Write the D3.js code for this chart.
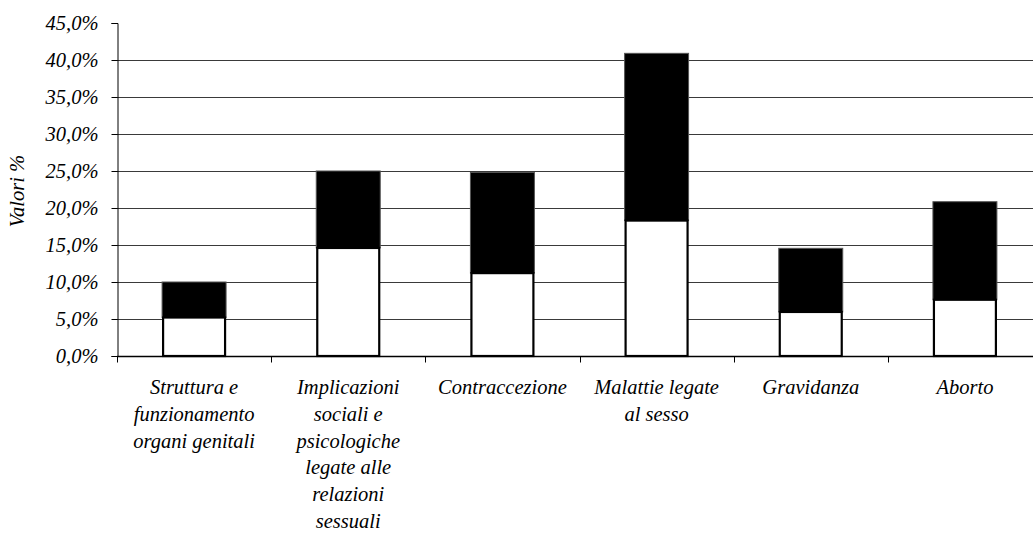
<!DOCTYPE html>
<html>
<head>
<meta charset="utf-8">
<script src="https://cdn.jsdelivr.net/npm/d3@7"></script>
<style>
    body { margin: 0; background: #fff; }
    svg text { font-family: "Liberation Serif", "Times New Roman", Times, serif; font-style: italic; fill: #000; }
</style>
</head>
<body>
<script>
// categories, one label line per entry
const categories = [
    ["Struttura e", "funzionamento", "organi genitali"],
    ["Implicazioni", "sociali e", "psicologiche", "legate alle", "relazioni", "sessuali"],
    ["Contraccezione"],
    ["Malattie legate", "al sesso"],
    ["Gravidanza"],
    ["Aborto"]
];
// lower (white) and upper (black) segments, in %
const lowerValues = [5.2, 14.6, 11.2, 18.3, 5.95, 7.6];
const upperValues = [4.8, 10.4, 13.6, 22.6, 8.6, 13.25];
const yTicks = [0, 5, 10, 15, 20, 25, 30, 35, 40, 45];

const width = 1033, height = 535;
const margin = { left: 117, right: -9, top: 23, bottom: 179 };
const FONT = '"Liberation Serif", "Times New Roman", Times, serif';

const svg = d3.select("body").append("svg")
    .attr("width", width)
    .attr("height", height)
    .attr("font-family", FONT);

const x = d3.scaleBand()
    .domain(d3.range(categories.length))
    .range([margin.left, width - margin.right]);

const y = d3.scaleLinear()
    .domain([0, 45])
    .range([height - margin.bottom, margin.top]);

const fmt = v => v.toFixed(1).replace(".", ",") + "%";

// gridlines
svg.append("g")
    .selectAll("line")
    .data(yTicks.filter(t => t > 0 && t < 45))
    .enter()
    .append("line")
    .attr("x1", margin.left)
    .attr("x2", width)
    .attr("y1", d => Math.round(y(d)) + 0.5)
    .attr("y2", d => Math.round(y(d)) + 0.5)
    .attr("stroke", "#3a3a3a")
    .attr("stroke-width", 1);

// y axis
const yAxis = svg.append("g")
    .attr("transform", "translate(" + (margin.left + 0.5) + ",0)")
    .call(d3.axisLeft(y).tickValues(yTicks).tickFormat(fmt).tickSize(6).tickPadding(13))
    .attr("font-family", FONT);
yAxis.select(".domain").attr("stroke", "#000");
yAxis.selectAll(".tick line").attr("stroke", "#000");
yAxis.selectAll(".tick text")
    .attr("font-size", "20.5px")
    .attr("font-family", FONT)
    .attr("font-style", "italic")
    .attr("fill", "#000");

// bars
const barWidth = x.bandwidth() * 0.415;
const bars = svg.append("g")
    .selectAll("g")
    .data(categories.map((c, i) => ({ i: i, lo: lowerValues[i], hi: upperValues[i] })))
    .enter()
    .append("g");

bars.append("rect")
    .attr("x", d => x(d.i) + (x.bandwidth() - barWidth) / 2)
    .attr("y", d => y(d.lo + d.hi))
    .attr("width", barWidth)
    .attr("height", d => y(d.lo) - y(d.lo + d.hi))
    .attr("fill", "#000")
    .attr("stroke", "#555")
    .attr("stroke-width", 1);

bars.append("rect")
    .attr("x", d => x(d.i) + (x.bandwidth() - barWidth) / 2 + 1)
    .attr("y", d => y(d.lo))
    .attr("width", barWidth - 2)
    .attr("height", d => y(0) - y(d.lo))
    .attr("fill", "#fff")
    .attr("stroke", "#000")
    .attr("stroke-width", 2.2);

// x axis
const xAxis = svg.append("g")
    .attr("transform", "translate(0," + (y(0) + 0.5) + ")");
xAxis.append("line")
    .attr("x1", margin.left)
    .attr("x2", width)
    .attr("stroke", "#000")
    .attr("stroke-width", 1.5);
xAxis.selectAll("line.tk")
    .data(d3.range(categories.length + 1))
    .enter()
    .append("line")
    .attr("class", "tk")
    .attr("x1", d => Math.round(d < categories.length ? x(d) : x(d - 1) + x.bandwidth()) + 0.5)
    .attr("x2", d => Math.round(d < categories.length ? x(d) : x(d - 1) + x.bandwidth()) + 0.5)
    .attr("y1", 0)
    .attr("y2", 6)
    .attr("stroke", "#000");

// category labels
const lineH = 26.8;
svg.append("g")
    .selectAll("text")
    .data(categories)
    .enter()
    .append("text")
    .attr("text-anchor", "middle")
    .attr("font-size", "20.5px")
    .attr("transform", (d, i) => "translate(" + (x(i) + x.bandwidth() / 2) + ",394)")
    .each(function (lines) {
        d3.select(this).selectAll("tspan")
            .data(lines)
            .enter()
            .append("tspan")
            .attr("x", 0)
            .attr("y", (l, j) => j * lineH)
            .text(l => l);
    });

// y label
svg.append("text")
    .attr("transform", "translate(24,191) rotate(-90)")
    .attr("text-anchor", "middle")
    .attr("font-size", "20.5px")
    .text("Valori %");
</script>
</body>
</html>
